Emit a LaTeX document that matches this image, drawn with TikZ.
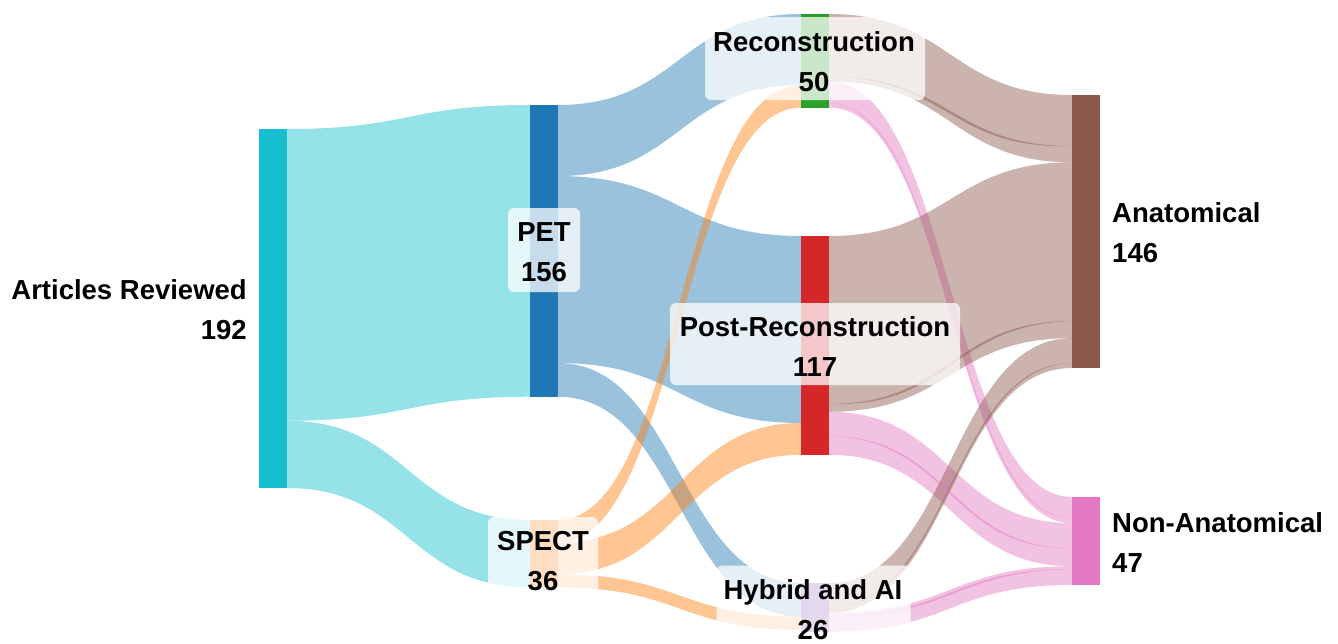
\documentclass[tikz,border=0pt]{standalone}
\usepackage{fontspec}
\setmainfont{Liberation Sans}
\usetikzlibrary{calc}
\pgfdeclarelayer{links}
\pgfsetlayers{links,main}

\definecolor{cArt}{HTML}{17BECF}
\definecolor{cPet}{HTML}{1F77B4}
\definecolor{cSpect}{HTML}{FF7F0E}
\definecolor{cRec}{HTML}{2CA02C}
\definecolor{cPost}{HTML}{D62728}
\definecolor{cHyb}{HTML}{9467BD}
\definecolor{cAna}{HTML}{8C564B}
\definecolor{cNon}{HTML}{E377C2}

% one flow band: source node, offset in source, target node, offset in target, value, colour
\newcommand\skband[6]{%
  \fill[#6, fill opacity=.45]
    let \p1=($(#1.north east)+(0,#2*1.87)$), \p2=($(#3.north west)+(0,#4*1.87)$) in
    (\p1) .. controls ({(\x1+\x2)/2},\y1) and ({(\x1+\x2)/2},\y2) .. (\p2)
    -- (\x2,{\y2-#5*1.87pt})
    .. controls ({(\x1+\x2)/2},{\y2-#5*1.87pt}) and ({(\x1+\x2)/2},{\y1-#5*1.87pt}) .. (\x1,{\y1-#5*1.87pt})
    -- cycle;}

% thin crescent where two stacked flows overlap: y at source side, y at target side, thickness, colour
\newcommand\sklens[4]{%
  \fill[#4, fill opacity=.45]
    (829,#1) .. controls (950.5,#1) and (950.5,#2) .. (1072,#2)
    .. controls (950.5,{#2+#3}) and (950.5,{#1+#3}) .. (829,#1) -- cycle;}

\tikzset{
  skbar/.style={rectangle, draw=none, minimum width=28pt, minimum height={#1*1.87pt},
    inner sep=0pt, outer sep=0pt, anchor=north west},
  lbox/.style={rectangle, fill=white, fill opacity=.75, rounded corners=6pt, draw=none, inner sep=0pt},
  ltext/.style={font=\fontsize{27.5pt}{40pt}\selectfont\bfseries, inner sep=0pt, text=black},
}

\begin{document}
\begin{tikzpicture}[x=1pt,y=-1pt]
\useasboundingbox (0,0) rectangle (1338,643);

% node bars
\node[skbar=192, fill=cArt]   (art)   at (259,129) {};
\node[skbar=156, fill=cPet]   (pet)   at (530,105) {};
\node[skbar=36,  fill=cSpect] (spect) at (530,520) {};
\node[skbar=50,  fill=cRec]   (rec)   at (801,14)  {};
\node[skbar=117, fill=cPost]  (post)  at (801,236) {};
\node[skbar=26,  fill=cHyb]   (hyb)   at (801,583) {};
\node[skbar=146, fill=cAna]   (ana)   at (1072,95) {};
\node[skbar=47,  fill=cNon]   (non)   at (1072,497) {};

% flows
\begin{pgfonlayer}{links}
  \skband{art}{0}{pet}{0}{156}{cArt}
  \skband{art}{156}{spect}{0}{36}{cArt}
  \skband{pet}{0}{rec}{0}{38}{cPet}
  \skband{pet}{38}{post}{0}{100}{cPet}
  \skband{pet}{138}{hyb}{0}{18}{cPet}
  \skband{spect}{0}{rec}{38}{12}{cSpect}
  \skband{spect}{12}{post}{100}{17}{cSpect}
  \skband{spect}{29}{hyb}{18}{7}{cSpect}
  \skband{rec}{0}{ana}{0}{36}{cAna}
  \skband{rec}{36}{non}{0}{14}{cNon}
  \skband{post}{0}{ana}{36}{94}{cAna}
  \skband{post}{94}{non}{14}{23}{cNon}
  \skband{hyb}{0}{ana}{130}{16}{cAna}
  \skband{hyb}{16}{non}{37}{10}{cNon}
  % overlap slivers inside the right-hand flows
  \sklens{76}{146}{4}{cAna}
  \sklens{404}{321}{4}{cAna}
  \sklens{607}{363}{3.5}{cAna}
  \sklens{103}{518}{3.5}{cNon}
  \sklens{436}{548}{3.5}{cNon}
  \sklens{616}{569}{3}{cNon}
\end{pgfonlayer}

% label boxes over the middle columns
\node[lbox, minimum width=72pt,  minimum height=84pt] (petbox)   at (544,250)   {};
\node[lbox, minimum width=110pt, minimum height=78pt] (spectbox) at (543,556)   {};
\node[lbox, minimum width=220pt, minimum height=83pt] (recbox)   at (815,58.5)  {};
\node[lbox, minimum width=290pt, minimum height=82pt] (postbox)  at (815,344)   {};
\node[lbox, minimum width=194pt, minimum height=83pt] (hybbox)   at (813.5,607) {};

% labels
\node[ltext, align=right, anchor=east] (artlab) at (247,310) {Articles Reviewed\\192};
\node[ltext, align=center] (petlab)   at (544,252.5) {PET\\156};
\node[ltext, align=center] (spectlab) at (543,561)   {SPECT\\36};
\node[ltext, align=center] (reclab)   at (814,62)    {Reconstruction\\50};
\node[ltext, align=center] (postlab)  at (815,347)   {Post-Reconstruction\\117};
\node[ltext, align=center] (hyblab)   at (813,610)   {Hybrid and AI\\26};
\node[ltext, align=left, anchor=west] (analab) at (1112,233)   {Anatomical\\146};
\node[ltext, align=left, anchor=west] (nonlab) at (1112,542.5) {Non-Anatomical\\47};
\end{tikzpicture}
\end{document}
